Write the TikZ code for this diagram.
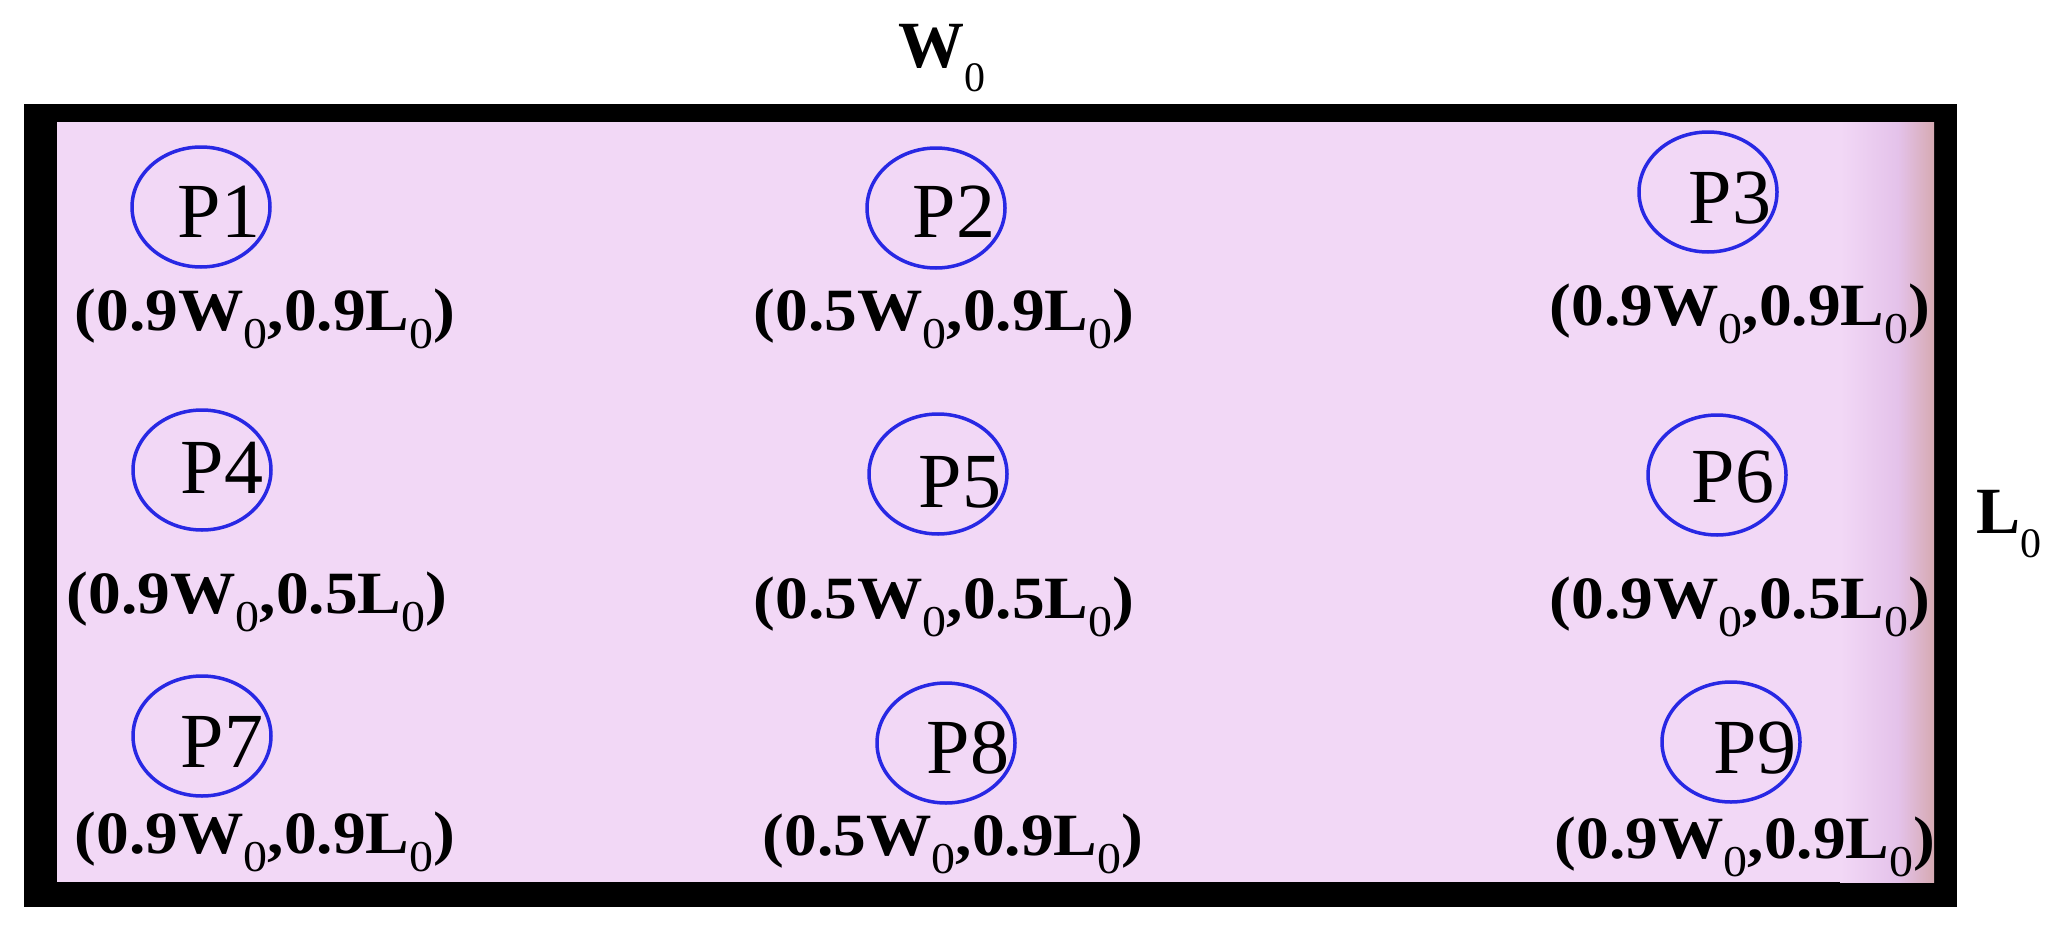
\documentclass[tikz,border=0pt]{standalone}
\usepackage{fontspec}
\setmainfont{Liberation Serif}
\usetikzlibrary{shapes.geometric}
\definecolor{plate}{RGB}{242,216,246}
\definecolor{platemid}{RGB}{228,194,234}
\definecolor{plateedge}{RGB}{214,170,178}
\definecolor{ringblue}{RGB}{40,40,228}
\newcommand{\zsub}[3]{\raisebox{-#1pt}{\fontsize{#2}{#2}\selectfont\mdseries #3}}
\newcommand{\coordlbl}[2]{\scalebox{1.09}[1]{(#1W\zsub{18}{44}{0},#2L\zsub{18}{44}{0})}}
\begin{document}
\begin{tikzpicture}[x=1pt,y=-1pt,
  ring/.style={ellipse,draw=ringblue,line width=3.5pt,inner sep=0pt,
    minimum width=138pt,minimum height=120pt},
  ptext/.style={anchor=base,inner sep=0pt,font=\fontsize{78}{78}\selectfont},
  clbl/.style={anchor=base,inner sep=0pt,font=\bfseries\fontsize{60}{60}\selectfont},
  dimlbl/.style={anchor=base west,inner sep=0pt,font=\bfseries\fontsize{66}{66}\selectfont}]
\useasboundingbox (0,0) rectangle (2051,934);
% frame and plate
\fill[black] (24,104) rectangle (1957,907);
\fill[plate] (57,122) rectangle (1934,882);
\shade[left color=plate,right color=platemid] (1840,122) rectangle (1898,882);
\shade[left color=platemid,right color=plateedge] (1898,122) rectangle (1934,882);
% dimension labels
\node[dimlbl] (W) at (898,68) {W\zsub{24}{42}{0}};
\node[dimlbl] (L) at (1976,533) {L\zsub{24}{42}{0}};
% measuring points
\node[ring] (e1) at (201,207) {};
\node[ring] (e2) at (936,208) {};
\node[ring] (e3) at (1708,192) {};
\node[ring] (e4) at (202,470) {};
\node[ring] (e5) at (938,474) {};
\node[ring] (e6) at (1717,475) {};
\node[ring] (e7) at (202,736) {};
\node[ring] (e8) at (946,743) {};
\node[ring] (e9) at (1731,742) {};
\node[ptext] (t1) at (219,237) {P1};
\node[ptext] (t2) at (954,237) {P2};
\node[ptext] (t3) at (1730,223) {P3};
\node[ptext] (t4) at (222,493) {P4};
\node[ptext] (t5) at (960,507) {P5};
\node[ptext] (t6) at (1733,502) {P6};
\node[ptext] (t7) at (222,767) {P7};
\node[ptext] (t8) at (968,773) {P8};
\node[ptext] (t9) at (1755,773) {P9};
% coordinates
\node[clbl] (c1) at (265,330) {\coordlbl{0.9}{0.9}};
\node[clbl] (c2) at (944,330) {\coordlbl{0.5}{0.9}};
\node[clbl] (c3) at (1740,325) {\coordlbl{0.9}{0.9}};
\node[clbl] (c4) at (257,613) {\coordlbl{0.9}{0.5}};
\node[clbl] (c5) at (944,618) {\coordlbl{0.5}{0.5}};
\node[clbl] (c6) at (1740,618) {\coordlbl{0.9}{0.5}};
\node[clbl] (c7) at (265,853) {\coordlbl{0.9}{0.9}};
\node[clbl] (c8) at (953,855) {\coordlbl{0.5}{0.9}};
\node[clbl] (c9) at (1745,858) {\coordlbl{0.9}{0.9}};
\end{tikzpicture}
\end{document}
